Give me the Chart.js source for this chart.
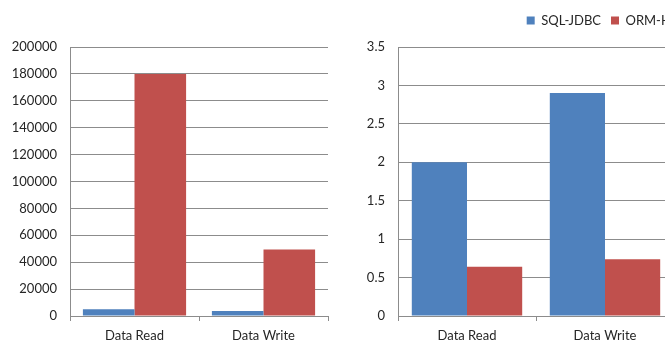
<!DOCTYPE html>
<html>
<head>
<meta charset="utf-8">
<script src="https://cdn.jsdelivr.net/npm/chart.js@4.4.1/dist/chart.umd.min.js"></script>
<style>
  html, body { margin: 0; padding: 0; background: #fff; overflow: hidden; }
  body { width: 665px; height: 341px; position: relative; }
  #leftBox { position: absolute; left: 0; top: 0; width: 340px; height: 341px; }
  #rightBox { position: absolute; left: 340px; top: 0; width: 365px; height: 341px; }
</style>
</head>
<body>
<div id="leftBox"><canvas id="leftChart"></canvas></div>
<div id="rightBox"><canvas id="rightChart"></canvas></div>
<script>
const categories = ['Data Read', 'Data Write'];
const seriesNames = ['SQL-JDBC', 'ORM-HSQL'];

// left panel (large values)
const leftJdbc = [5000, 3700];
const leftOrm = [180000, 49500];
const leftTicks = [0, 20000, 40000, 60000, 80000, 100000, 120000, 140000, 160000, 180000, 200000];

// right panel (small values)
const rightJdbc = [2.0, 2.9];
const rightOrm = [0.64, 0.74];
const rightTicks = [0, 0.5, 1, 1.5, 2, 2.5, 3, 3.5];

const BLUE = '#4F81BD';
const RED = '#C0504D';
const GRID = '#8c8c8c';
const TEXT = '#262626';
const FONT = { family: 'Lato', size: 13 };

Chart.defaults.animation = false;
Chart.defaults.color = TEXT;
Chart.defaults.font = FONT;

// make room between legend and plot
const legendSpacer = {
  id: 'legendSpacer',
  beforeInit(chart) {
    if (!chart.legend) return;
    const fit = chart.legend.fit;
    chart.legend.fit = function () {
      fit.bind(chart.legend)();
      this.height += 10;
    };
  }
};

function makeOptions(ticks, axisWidth, showLegend, padTop, padRight, rightGap) {
  const scales = {
    x: {
      offset: true,
      grid: { offset: true, drawOnChartArea: false, tickLength: 5, color: GRID },
      border: { color: GRID },
      ticks: { padding: 7, color: TEXT, font: FONT },
      afterFit: s => { s.height = 25; }
    },
    y: {
      min: ticks[0],
      max: ticks[ticks.length - 1],
      afterBuildTicks: s => { s.ticks = ticks.map(v => ({ value: v })); },
      grid: { color: GRID, drawTicks: false },
      border: { color: GRID },
      ticks: { padding: 13, color: TEXT, font: FONT, callback: v => String(v) },
      afterFit: s => { s.width = axisWidth; }
    }
  };
  if (rightGap) {
    // blank axis on the right, only to hold space
    scales.y2 = {
      position: 'right',
      grid: { display: false },
      border: { display: false },
      ticks: { display: false },
      afterFit: s => { s.width = rightGap; }
    };
  }
  return {
    responsive: true,
    maintainAspectRatio: false,
    layout: { padding: { top: padTop, right: padRight, bottom: 0, left: 0 } },
    plugins: {
      tooltip: { enabled: false },
      legend: {
        display: showLegend,
        align: 'end',
        labels: { boxWidth: 8, boxHeight: 8, padding: 10, color: TEXT, font: FONT }
      }
    },
    scales
  };
}

function makeData(jdbc, orm) {
  return {
    labels: categories,
    datasets: [
      { label: seriesNames[0], data: jdbc, backgroundColor: BLUE, categoryPercentage: 0.8, barPercentage: 1.0 },
      { label: seriesNames[1], data: orm, backgroundColor: RED, categoryPercentage: 0.8, barPercentage: 1.0 }
    ]
  };
}

new Chart(document.getElementById('leftChart'), {
  type: 'bar',
  data: makeData(leftJdbc, leftOrm),
  options: makeOptions(leftTicks, 70, false, 47, 12, 0)
});

new Chart(document.getElementById('rightChart'), {
  type: 'bar',
  data: makeData(rightJdbc, rightOrm),
  options: makeOptions(rightTicks, 58, true, 4, 0, 31),
  plugins: [legendSpacer]
});
</script>
</body>
</html>
